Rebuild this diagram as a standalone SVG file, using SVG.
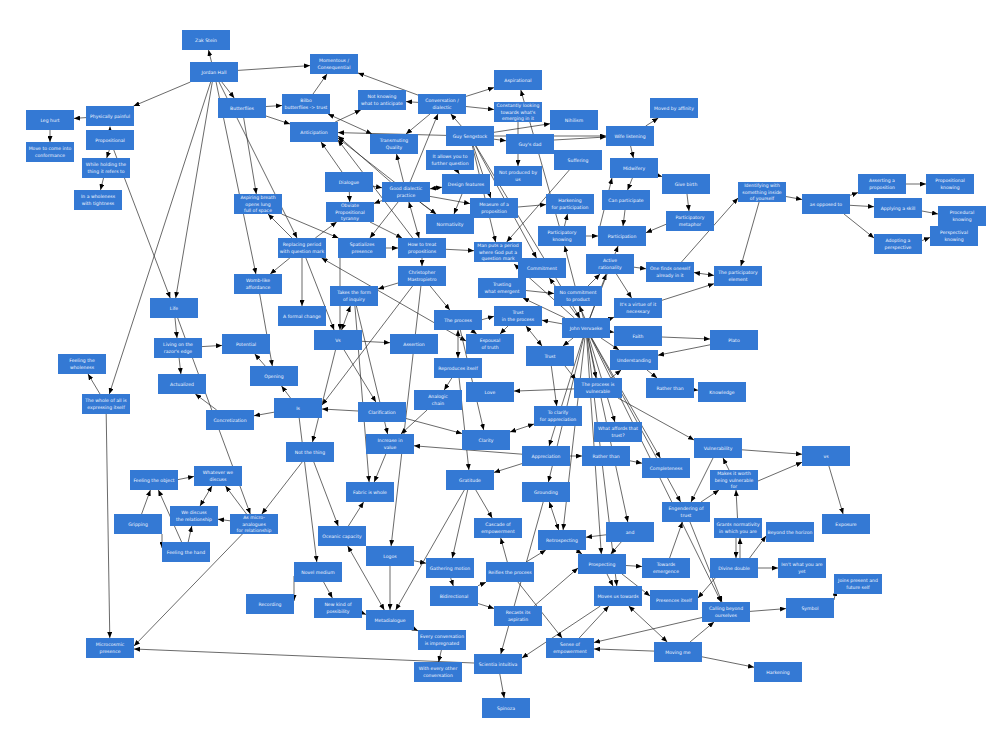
<svg xmlns="http://www.w3.org/2000/svg" width="994" height="732" viewBox="0 0 994 732">
<defs>
<marker id="ah" viewBox="0 0 12 10" refX="12" refY="5" markerWidth="6" markerHeight="5" markerUnits="userSpaceOnUse" orient="auto-start-reverse"><path d="M0,0 L12,5 L0,10 z" fill="#000"/></marker>
<style>
.e line{stroke:#2a2a2a;stroke-width:0.7;fill:none;marker-end:url(#ah)}
.e line.b{marker-start:url(#ah)}
.n rect{fill:#3479d4}
.n text{fill:#f2f6ff;font-family:"DejaVu Sans","Liberation Sans",sans-serif;font-size:4.6px;text-anchor:middle}
</style>
</defs>
<rect width="994" height="732" fill="#fff"/>
<g id="connectors" class="e">
<line x1="211.5" y1="62" x2="208.5" y2="50"/>
<line x1="238" y1="70.4" x2="310" y2="65.6"/>
<line x1="190.4" y1="82" x2="133.6" y2="106"/>
<line x1="221.8" y1="82" x2="234.2" y2="98"/>
<line x1="212.3" y1="82" x2="175.7" y2="298"/>
<line x1="210.7" y1="82" x2="109.3" y2="394"/>
<line x1="216.1" y1="82" x2="255.9" y2="274"/>
<line x1="219" y1="82" x2="297" y2="238"/>
<line x1="243.7" y1="118" x2="256.3" y2="194"/>
<line x1="86" y1="117.6" x2="74" y2="118.4"/>
<line x1="50" y1="130" x2="50" y2="142"/>
<line x1="110" y1="130" x2="110" y2="126.5"/>
<line x1="109.3" y1="150" x2="106.7" y2="158"/>
<line x1="103.5" y1="178" x2="100.5" y2="190"/>
<line x1="113.8" y1="150" x2="170.2" y2="298"/>
<line x1="175" y1="318" x2="177" y2="338"/>
<line x1="202" y1="346.6" x2="222" y2="345.4"/>
<line x1="179.1" y1="358" x2="180.9" y2="374"/>
<line x1="216.7" y1="410" x2="195.3" y2="394"/>
<line x1="100" y1="394" x2="88" y2="374"/>
<line x1="106.2" y1="414" x2="109.8" y2="638"/>
<line x1="177.7" y1="318" x2="250.3" y2="514"/>
<line x1="178" y1="479.6" x2="194" y2="476.4"/>
<line x1="141.6" y1="514" x2="150.4" y2="490"/>
<line x1="162" y1="534" x2="162" y2="548"/>
<line x1="181.6" y1="542" x2="158.4" y2="490"/>
<line x1="188.2" y1="542" x2="191.8" y2="526"/>
<line class="b" x1="200" y1="506" x2="212" y2="486"/>
<line x1="230" y1="520.8" x2="218" y2="519.2"/>
<line x1="246.5" y1="514" x2="225.5" y2="486"/>
<line x1="242.4" y1="534" x2="134" y2="646"/>
<line x1="474" y1="663" x2="134" y2="649"/>
<line x1="265.2" y1="366" x2="254.8" y2="354"/>
<line x1="290.5" y1="398" x2="281.5" y2="386"/>
<line x1="274" y1="412.2" x2="254" y2="415.8"/>
<line x1="358" y1="411" x2="322" y2="409"/>
<line x1="412.6" y1="286" x2="322" y2="405"/>
<line x1="259.7" y1="294" x2="272.3" y2="366"/>
<line x1="289.8" y1="258" x2="270.2" y2="274"/>
<line x1="302" y1="258" x2="302" y2="306"/>
<line x1="292" y1="238" x2="268" y2="214"/>
<line x1="281.6" y1="214" x2="338.4" y2="238"/>
<line class="b" x1="350.4" y1="306" x2="341.6" y2="330"/>
<line x1="398" y1="283" x2="378" y2="289"/>
<line x1="340" y1="258" x2="340" y2="330"/>
<line x1="305.9" y1="258" x2="334.1" y2="330"/>
<line x1="362" y1="341.3" x2="390" y2="342.7"/>
<line x1="335.5" y1="350" x2="312.5" y2="442"/>
<line x1="356.4" y1="306" x2="387.6" y2="434"/>
<line x1="406" y1="418.5" x2="462" y2="433.5"/>
<line x1="522" y1="454.2" x2="414" y2="445.8"/>
<line x1="385.8" y1="454" x2="374.2" y2="482"/>
<line x1="313.8" y1="462" x2="338.2" y2="526"/>
<line x1="299.2" y1="418" x2="316.8" y2="562"/>
<line x1="302.2" y1="462" x2="261.8" y2="514"/>
<line x1="348.4" y1="526" x2="363.6" y2="502"/>
<line class="b" x1="384.3" y1="610" x2="347.7" y2="546"/>
<line x1="390" y1="566" x2="390" y2="610"/>
<line x1="414" y1="560.8" x2="426" y2="563.2"/>
<line x1="464.3" y1="490" x2="395.7" y2="610"/>
<line x1="323.6" y1="582" x2="332.4" y2="598"/>
<line x1="294" y1="576" x2="294" y2="601"/>
<line x1="360" y1="612" x2="366" y2="614.5"/>
<line x1="412" y1="628" x2="418" y2="630.8"/>
<line x1="441.4" y1="650" x2="438.6" y2="662"/>
<line x1="467.7" y1="490" x2="452.3" y2="558"/>
<line x1="450.7" y1="578" x2="453.3" y2="586"/>
<line x1="478" y1="585.7" x2="486" y2="582.3"/>
<line x1="478" y1="603.5" x2="494" y2="608.5"/>
<line x1="475.8" y1="490" x2="492.2" y2="518"/>
<line x1="420.9" y1="286" x2="391.1" y2="546"/>
<line x1="354.9" y1="306" x2="369.1" y2="482"/>
<line x1="266" y1="106.5" x2="282" y2="105.5"/>
<line x1="266" y1="116" x2="290" y2="124"/>
<line x1="313" y1="94" x2="327" y2="74"/>
<line x1="335.2" y1="122" x2="360.8" y2="110"/>
<line x1="418" y1="102.4" x2="406" y2="101.6"/>
<line x1="418" y1="95.1" x2="358" y2="72.9"/>
<line x1="461.2" y1="126" x2="450.8" y2="114"/>
<line x1="430" y1="114" x2="406" y2="134"/>
<line class="b" x1="328" y1="114" x2="372" y2="134"/>
<line x1="446" y1="135.4" x2="338" y2="132.6"/>
<line x1="390.7" y1="182" x2="338" y2="136"/>
<line x1="435.2" y1="214" x2="338" y2="138"/>
<line x1="342" y1="172" x2="321" y2="142"/>
<line x1="373" y1="186.2" x2="382" y2="187.8"/>
<line x1="410.1" y1="182" x2="437.9" y2="114"/>
<line x1="403.5" y1="182" x2="396.5" y2="154"/>
<line x1="382" y1="200.6" x2="374" y2="203.4"/>
<line class="b" x1="430" y1="188.8" x2="442" y2="187.2"/>
<line x1="456.7" y1="170" x2="459.3" y2="174"/>
<line x1="430" y1="196.4" x2="470" y2="203.6"/>
<line x1="419.8" y1="202" x2="436.2" y2="214"/>
<line class="b" x1="408.9" y1="202" x2="419.1" y2="238"/>
<line x1="398.1" y1="202" x2="369.9" y2="238"/>
<line x1="315.3" y1="238" x2="336.7" y2="222"/>
<line x1="386" y1="248" x2="398" y2="248"/>
<line x1="370" y1="222" x2="402" y2="238"/>
<line x1="349.3" y1="192" x2="349.7" y2="202"/>
<line x1="446" y1="249.3" x2="474" y2="250.7"/>
<line x1="466" y1="96.4" x2="494" y2="87.6"/>
<line x1="466" y1="106.5" x2="494" y2="109.5"/>
<line x1="494" y1="132.3" x2="550" y2="123.7"/>
<line x1="494" y1="139.2" x2="506" y2="140.8"/>
<line x1="554" y1="140" x2="606" y2="137"/>
<line x1="494" y1="136" x2="606" y2="136"/>
<line x1="569.3" y1="170" x2="506.7" y2="242"/>
<line x1="645.7" y1="126" x2="658.3" y2="118"/>
<line x1="630.6" y1="146" x2="633.4" y2="158"/>
<line x1="658" y1="175.4" x2="662" y2="176.6"/>
<line x1="632.4" y1="178" x2="627.6" y2="190"/>
<line x1="687" y1="194" x2="689" y2="211"/>
<line x1="666" y1="224.3" x2="646" y2="232.7"/>
<line x1="625" y1="210" x2="623" y2="226"/>
<line x1="586" y1="236" x2="598" y2="236"/>
<line x1="564.5" y1="226" x2="567.5" y2="214"/>
<line x1="600" y1="226" x2="612" y2="178"/>
<line x1="518" y1="207" x2="546" y2="204.6"/>
<line x1="518" y1="122" x2="518" y2="166"/>
<line x1="786" y1="196.5" x2="802" y2="199.5"/>
<line x1="759.1" y1="202" x2="740.9" y2="266"/>
<line x1="681.5" y1="262" x2="738" y2="198"/>
<line x1="850" y1="195.4" x2="858" y2="192.6"/>
<line x1="850" y1="205.3" x2="874" y2="206.7"/>
<line x1="844" y1="214" x2="874" y2="238"/>
<line x1="906" y1="184" x2="926" y2="184"/>
<line x1="922" y1="211" x2="938" y2="214"/>
<line x1="922" y1="240.6" x2="930" y2="237.4"/>
<line x1="634" y1="267.2" x2="646" y2="268.8"/>
<line x1="616.4" y1="274" x2="631.6" y2="298"/>
<line class="b" x1="714" y1="275.4" x2="694" y2="272.6"/>
<line x1="662" y1="300.3" x2="714" y2="283.7"/>
<line x1="589.8" y1="318" x2="606.2" y2="274"/>
<line x1="584.8" y1="318" x2="579.2" y2="306"/>
<line x1="578.7" y1="318" x2="549.3" y2="278"/>
<line x1="562" y1="323.8" x2="542" y2="320.2"/>
<line x1="573.1" y1="338" x2="562.9" y2="346"/>
<line x1="610" y1="331.7" x2="614" y2="332.3"/>
<line x1="601" y1="338" x2="619" y2="350"/>
<line x1="588" y1="338" x2="596" y2="378"/>
<line x1="610" y1="318.8" x2="614" y2="317.2"/>
<line x1="662" y1="337" x2="710" y2="339"/>
<line x1="710" y1="344.8" x2="658" y2="355.2"/>
<line x1="646.9" y1="370" x2="657.1" y2="378"/>
<line x1="694" y1="389.8" x2="698" y2="390.2"/>
<line x1="610.9" y1="378" x2="621.1" y2="370"/>
<line x1="574" y1="388.9" x2="514" y2="391.1"/>
<line x1="551.3" y1="366" x2="556.7" y2="406"/>
<line class="b" x1="534" y1="424" x2="510" y2="432"/>
<line x1="570" y1="456" x2="582" y2="456"/>
<line x1="630" y1="460.8" x2="642" y2="463.2"/>
<line x1="742" y1="449.8" x2="802" y2="454.2"/>
<line x1="758" y1="481" x2="802" y2="462.3"/>
<line x1="828.9" y1="466" x2="843.1" y2="514"/>
<line x1="729" y1="470" x2="723" y2="458"/>
<line x1="701" y1="502" x2="719" y2="490"/>
<line x1="618" y1="398" x2="694" y2="440"/>
<line x1="589.1" y1="338" x2="614.9" y2="422"/>
<line x1="582.9" y1="338" x2="549.1" y2="446"/>
<line x1="583.6" y1="338" x2="548.4" y2="482"/>
<line x1="584.9" y1="338" x2="563.1" y2="530"/>
<line x1="586.7" y1="338" x2="601.3" y2="554"/>
<line x1="587.2" y1="338" x2="616.8" y2="586"/>
<line x1="591.7" y1="338" x2="660.3" y2="458"/>
<line x1="591.4" y1="338" x2="680.6" y2="502"/>
<line x1="590.9" y1="338" x2="721.1" y2="602"/>
<line x1="588.2" y1="338" x2="627.8" y2="522"/>
<line x1="565" y1="318" x2="523" y2="298"/>
<line class="b" x1="542" y1="346" x2="526" y2="326"/>
<line x1="482" y1="319.7" x2="494" y2="316.3"/>
<line class="b" x1="458" y1="330" x2="458" y2="358"/>
<line x1="471.3" y1="330" x2="476.7" y2="334"/>
<line class="b" x1="321.6" y1="258" x2="466" y2="341"/>
<line x1="422" y1="258" x2="422" y2="266"/>
<line x1="430.2" y1="286" x2="449.8" y2="310"/>
<line x1="460.3" y1="330" x2="483.7" y2="430"/>
<line x1="451.8" y1="378" x2="444.2" y2="390"/>
<line x1="459.1" y1="378" x2="468.9" y2="470"/>
<line x1="522" y1="463.6" x2="494" y2="472.4"/>
<line x1="427.1" y1="410" x2="400.9" y2="434"/>
<line x1="344.1" y1="350" x2="375.9" y2="402"/>
<line class="b" x1="549.3" y1="502" x2="558.7" y2="530"/>
<line x1="606" y1="534.8" x2="586" y2="537.2"/>
<line x1="621.2" y1="542" x2="610.8" y2="554"/>
<line x1="526.2" y1="562" x2="545.8" y2="550"/>
<line x1="507.3" y1="562" x2="500.7" y2="538"/>
<line x1="576" y1="550" x2="582" y2="554"/>
<line x1="534.2" y1="606" x2="578" y2="568"/>
<line x1="607" y1="574" x2="613" y2="586"/>
<line x1="626" y1="565.5" x2="642" y2="566.5"/>
<line x1="622" y1="574" x2="650" y2="596"/>
<line x1="669.6" y1="558" x2="682.4" y2="522"/>
<line x1="690" y1="522" x2="722" y2="602"/>
<line x1="736" y1="538" x2="736" y2="558"/>
<line x1="740" y1="558" x2="740" y2="538"/>
<line x1="749.6" y1="558" x2="766" y2="536"/>
<line x1="758" y1="568" x2="778" y2="568"/>
<line x1="715.2" y1="578" x2="698" y2="598"/>
<line x1="737.5" y1="518" x2="736" y2="490"/>
<line x1="750" y1="611.4" x2="786" y2="608.6"/>
<line x1="834" y1="600" x2="836" y2="590"/>
<line x1="690" y1="642" x2="714" y2="622"/>
<line x1="654" y1="651.1" x2="594" y2="648.9"/>
<line x1="702" y1="617.5" x2="594" y2="642.5"/>
<line class="b" x1="667.3" y1="642" x2="628.7" y2="606"/>
<line x1="702" y1="656.8" x2="754" y2="667.2"/>
<line x1="600.4" y1="606" x2="522" y2="658"/>
<line x1="579.2" y1="638" x2="608.8" y2="606"/>
<line x1="517.9" y1="582" x2="562.1" y2="638"/>
<line x1="543.2" y1="502" x2="500.8" y2="654"/>
<line x1="499.8" y1="674" x2="504.2" y2="698"/>
<line x1="713" y1="458" x2="691" y2="502"/>
<line x1="565" y1="366" x2="576" y2="380"/>
<line x1="588" y1="286" x2="600" y2="274"/>
<line x1="526" y1="290.5" x2="554" y2="293.5"/>
<line x1="583.4" y1="318" x2="564.6" y2="246"/>
<line x1="589.9" y1="318" x2="618.1" y2="246"/>
<line x1="574.4" y1="318" x2="514" y2="264"/>
<line x1="473.3" y1="146" x2="490.7" y2="198"/>
<line x1="472.4" y1="146" x2="495.6" y2="242"/>
<line x1="475.5" y1="146" x2="536.5" y2="258"/>
<line x1="476" y1="146" x2="580" y2="318"/>
<line x1="559.2" y1="226" x2="520.8" y2="90"/>
<line x1="412.7" y1="238" x2="338" y2="140"/>
<line x1="462" y1="194" x2="454" y2="214"/>
<line x1="508" y1="326" x2="500" y2="334"/>
</g>
<g class="n">
<g id="zak-stein"><rect x="182" y="30" width="48" height="20"/><text x="206" y="41.6">Zak Stein</text></g>
<g id="jordan-hall"><rect x="190" y="62" width="48" height="20"/><text x="214" y="73.6">Jordan Hall</text></g>
<g id="physically-painful"><rect x="86" y="106" width="48" height="20"/><text x="110" y="117.6">Physically painful</text></g>
<g id="leg-hurt"><rect x="26" y="110" width="48" height="20"/><text x="50" y="121.6">Leg hurt</text></g>
<g id="move-to-come"><rect x="26" y="142" width="48" height="20"/><text x="50" y="150.2">Move to come into<tspan x="50" dy="6.8">conformance</tspan></text></g>
<g id="propositional"><rect x="86" y="130" width="48" height="20"/><text x="110" y="141.6">Propositional</text></g>
<g id="while-holding"><rect x="82" y="158" width="48" height="20"/><text x="106" y="166.2">While holding the<tspan x="106" dy="6.8">thing it refers to</tspan></text></g>
<g id="in-a-wholeness"><rect x="74" y="190" width="48" height="20"/><text x="98" y="198.2">In a wholeness<tspan x="98" dy="6.8">with tightness</tspan></text></g>
<g id="butterflies"><rect x="218" y="98" width="48" height="20"/><text x="242" y="109.6">Butterflies</text></g>
<g id="momentous"><rect x="310" y="54" width="48" height="20"/><text x="334" y="62.2">Momentous /<tspan x="334" dy="6.8">Consequential</tspan></text></g>
<g id="bilbo"><rect x="282" y="94" width="48" height="20"/><text x="306" y="102.2">Bilbo<tspan x="306" dy="6.8">butterflies -&gt; trust</tspan></text></g>
<g id="anticipation"><rect x="290" y="122" width="48" height="20"/><text x="314" y="133.6">Anticipation</text></g>
<g id="not-knowing"><rect x="358" y="90" width="48" height="20"/><text x="382" y="98.2">Not knowing<tspan x="382" dy="6.8">what to anticipate</tspan></text></g>
<g id="conversation"><rect x="418" y="94" width="48" height="20"/><text x="442" y="102.2">Conversation /<tspan x="442" dy="6.8">dialectic</tspan></text></g>
<g id="transmuting"><rect x="370" y="134" width="48" height="20"/><text x="394" y="142.2">Transmuting<tspan x="394" dy="6.8">Quality</tspan></text></g>
<g id="guy-sengstock"><rect x="446" y="126" width="48" height="20"/><text x="470" y="137.6">Guy Sengstock</text></g>
<g id="it-allows"><rect x="426" y="150" width="48" height="20"/><text x="450" y="158.2">It allows you to<tspan x="450" dy="6.8">further question</tspan></text></g>
<g id="design-features"><rect x="442" y="174" width="48" height="20"/><text x="466" y="185.6">Design features</text></g>
<g id="dialogue"><rect x="325" y="172" width="48" height="20"/><text x="349" y="183.6">Dialogue</text></g>
<g id="good-dialectic"><rect x="382" y="182" width="48" height="20"/><text x="406" y="190.2">Good dialectic<tspan x="406" dy="6.8">practice</tspan></text></g>
<g id="obviate"><rect x="326" y="202" width="48" height="20"/><text x="350" y="207.2">Obviate<tspan x="350" dy="6.4">Propositional</tspan><tspan x="350" dy="6.4">tyranny</tspan></text></g>
<g id="measure"><rect x="470" y="198" width="48" height="20"/><text x="494" y="206.2">Measure of a<tspan x="494" dy="6.8">proposition</tspan></text></g>
<g id="normativity"><rect x="426" y="214" width="48" height="20"/><text x="450" y="225.6">Normativity</text></g>
<g id="replacing-period"><rect x="278" y="238" width="48" height="20"/><text x="302" y="246.2">Replacing period<tspan x="302" dy="6.8">with question mark</tspan></text></g>
<g id="spatializes"><rect x="338" y="238" width="48" height="20"/><text x="362" y="246.2">Spatializes<tspan x="362" dy="6.8">presence</tspan></text></g>
<g id="how-to-treat"><rect x="398" y="238" width="48" height="20"/><text x="422" y="246.2">How to treat<tspan x="422" dy="6.8">propositions</tspan></text></g>
<g id="man-puts"><rect x="474" y="242" width="48" height="20"/><text x="498" y="247.2">Man puts a period<tspan x="498" dy="6.4">where God put a</tspan><tspan x="498" dy="6.4">question mark</tspan></text></g>
<g id="aspiring-breath"><rect x="234" y="194" width="48" height="20"/><text x="258" y="199.2">Aspiring breath<tspan x="258" dy="6.4">opens lung</tspan><tspan x="258" dy="6.4">full of space</tspan></text></g>
<g id="aspirational"><rect x="494" y="70" width="48" height="20"/><text x="518" y="81.6">Aspirational</text></g>
<g id="constantly-looking"><rect x="494" y="102" width="48" height="20"/><text x="518" y="107.2">Constantly looking<tspan x="518" dy="6.4">towards what's</tspan><tspan x="518" dy="6.4">emerging in it</tspan></text></g>
<g id="nihilism"><rect x="550" y="110" width="48" height="20"/><text x="574" y="121.6">Nihilism</text></g>
<g id="guys-dad"><rect x="506" y="134" width="48" height="20"/><text x="530" y="145.6">Guy's dad</text></g>
<g id="wife-listening"><rect x="606" y="126" width="48" height="20"/><text x="630" y="137.6">Wife listening</text></g>
<g id="moved-by-affinity"><rect x="650" y="98" width="48" height="20"/><text x="674" y="109.6">Moved by affinity</text></g>
<g id="suffering"><rect x="554" y="150" width="48" height="20"/><text x="578" y="161.6">Suffering</text></g>
<g id="not-produced"><rect x="494" y="166" width="48" height="20"/><text x="518" y="174.2">Not produced by<tspan x="518" dy="6.8">us</tspan></text></g>
<g id="midwifery"><rect x="610" y="158" width="48" height="20"/><text x="634" y="169.6">Midwifery</text></g>
<g id="give-birth"><rect x="662" y="174" width="48" height="20"/><text x="686" y="185.6">Give birth</text></g>
<g id="harkening-participation"><rect x="546" y="194" width="48" height="20"/><text x="570" y="202.2">Harkening<tspan x="570" dy="6.8">for participation</tspan></text></g>
<g id="can-participate"><rect x="602" y="190" width="48" height="20"/><text x="626" y="201.6">Can participate</text></g>
<g id="participatory-metaphor"><rect x="666" y="211" width="48" height="20"/><text x="690" y="219.2">Participatory<tspan x="690" dy="6.8">metaphor</tspan></text></g>
<g id="participatory-knowing"><rect x="538" y="226" width="48" height="20"/><text x="562" y="234.2">Participatory<tspan x="562" dy="6.8">knowing</tspan></text></g>
<g id="participation"><rect x="598" y="226" width="48" height="20"/><text x="622" y="237.6">Participation</text></g>
<g id="identifying"><rect x="738" y="182" width="48" height="20"/><text x="762" y="187.2">Identifying with<tspan x="762" dy="6.4">something inside</tspan><tspan x="762" dy="6.4">of yourself</tspan></text></g>
<g id="as-opposed-to"><rect x="802" y="194" width="48" height="20"/><text x="826" y="205.6">as opposed to</text></g>
<g id="asserting"><rect x="858" y="174" width="48" height="20"/><text x="882" y="182.2">Asserting a<tspan x="882" dy="6.8">proposition</tspan></text></g>
<g id="propositional-knowing"><rect x="926" y="174" width="48" height="20"/><text x="950" y="182.2">Propositional<tspan x="950" dy="6.8">knowing</tspan></text></g>
<g id="applying-skill"><rect x="874" y="198" width="48" height="20"/><text x="898" y="209.6">Applying a skill</text></g>
<g id="procedural-knowing"><rect x="938" y="206" width="48" height="20"/><text x="962" y="214.2">Procedural<tspan x="962" dy="6.8">knowing</tspan></text></g>
<g id="perspectival-knowing"><rect x="930" y="226" width="48" height="20"/><text x="954" y="234.2">Perspectival<tspan x="954" dy="6.8">knowing</tspan></text></g>
<g id="adopting"><rect x="874" y="234" width="48" height="20"/><text x="898" y="242.2">Adopting a<tspan x="898" dy="6.8">perspective</tspan></text></g>
<g id="life"><rect x="150" y="298" width="48" height="20"/><text x="174" y="309.6">Life</text></g>
<g id="living-razor"><rect x="154" y="338" width="48" height="20"/><text x="178" y="346.2">Living on the<tspan x="178" dy="6.8">razor's edge</tspan></text></g>
<g id="potential"><rect x="222" y="334" width="48" height="20"/><text x="246" y="345.6">Potential</text></g>
<g id="actualized"><rect x="158" y="374" width="48" height="20"/><text x="182" y="385.6">Actualized</text></g>
<g id="feeling-wholeness"><rect x="58" y="354" width="48" height="20"/><text x="82" y="362.2">Feeling the<tspan x="82" dy="6.8">wholeness</tspan></text></g>
<g id="whole-of-all"><rect x="82" y="394" width="48" height="20"/><text x="106" y="402.2">The whole of all is<tspan x="106" dy="6.8">expressing itself</tspan></text></g>
<g id="concretization"><rect x="206" y="410" width="48" height="20"/><text x="230" y="421.6">Concretization</text></g>
<g id="feeling-object"><rect x="130" y="470" width="48" height="20"/><text x="154" y="481.6">Feeling the object</text></g>
<g id="whatever-we-discuss"><rect x="194" y="466" width="48" height="20"/><text x="218" y="474.2">Whatever we<tspan x="218" dy="6.8">discuss</tspan></text></g>
<g id="womb-like"><rect x="234" y="274" width="48" height="20"/><text x="258" y="282.2">Womb-like<tspan x="258" dy="6.8">affordance</tspan></text></g>
<g id="opening"><rect x="250" y="366" width="48" height="20"/><text x="274" y="377.6">Opening</text></g>
<g id="takes-form"><rect x="330" y="286" width="48" height="20"/><text x="354" y="294.2">Takes the form<tspan x="354" dy="6.8">of inquiry</tspan></text></g>
<g id="christopher"><rect x="398" y="266" width="48" height="20"/><text x="422" y="274.2">Christopher<tspan x="422" dy="6.8">Mastropietro</tspan></text></g>
<g id="formal-change"><rect x="278" y="306" width="48" height="20"/><text x="302" y="317.6">A formal change</text></g>
<g id="vs-1"><rect x="314" y="330" width="48" height="20"/><text x="338" y="341.6">Vs</text></g>
<g id="assertion"><rect x="390" y="334" width="48" height="20"/><text x="414" y="345.6">Assertion</text></g>
<g id="the-process"><rect x="434" y="310" width="48" height="20"/><text x="458" y="321.6">The process</text></g>
<g id="espousal"><rect x="466" y="334" width="48" height="20"/><text x="490" y="342.2">Espousal<tspan x="490" dy="6.8">of truth</tspan></text></g>
<g id="reproduces"><rect x="434" y="358" width="48" height="20"/><text x="458" y="369.6">Reproduces itself</text></g>
<g id="love"><rect x="466" y="382" width="48" height="20"/><text x="490" y="393.6">Love</text></g>
<g id="analogic-chain"><rect x="414" y="390" width="48" height="20"/><text x="438" y="398.2">Analogic<tspan x="438" dy="6.8">chain</tspan></text></g>
<g id="is"><rect x="274" y="398" width="48" height="20"/><text x="298" y="409.6">Is</text></g>
<g id="clarification"><rect x="358" y="402" width="48" height="20"/><text x="382" y="413.6">Clarification</text></g>
<g id="clarity"><rect x="462" y="430" width="48" height="20"/><text x="486" y="441.6">Clarity</text></g>
<g id="not-the-thing"><rect x="286" y="442" width="48" height="20"/><text x="310" y="453.6">Not the thing</text></g>
<g id="increase-value"><rect x="366" y="434" width="48" height="20"/><text x="390" y="442.2">Increase in<tspan x="390" dy="6.8">value</tspan></text></g>
<g id="gratitude"><rect x="446" y="470" width="48" height="20"/><text x="470" y="481.6">Gratitude</text></g>
<g id="fabric-whole"><rect x="346" y="482" width="48" height="20"/><text x="370" y="493.6">Fabric is whole</text></g>
<g id="trusting-emergent"><rect x="478" y="278" width="48" height="20"/><text x="502" y="286.2">Trusting<tspan x="502" dy="6.8">what emergent</tspan></text></g>
<g id="commitment"><rect x="518" y="258" width="48" height="20"/><text x="542" y="269.6">Commitment</text></g>
<g id="active-rationality"><rect x="586" y="254" width="48" height="20"/><text x="610" y="262.2">Active<tspan x="610" dy="6.8">rationality</tspan></text></g>
<g id="one-finds"><rect x="646" y="262" width="48" height="20"/><text x="670" y="270.2">One finds oneself<tspan x="670" dy="6.8">already in it</tspan></text></g>
<g id="participatory-element"><rect x="714" y="266" width="48" height="20"/><text x="738" y="274.2">The participatory<tspan x="738" dy="6.8">element</tspan></text></g>
<g id="no-commitment"><rect x="554" y="286" width="48" height="20"/><text x="578" y="294.2">No commitment<tspan x="578" dy="6.8">to product</tspan></text></g>
<g id="virtue"><rect x="614" y="298" width="48" height="20"/><text x="638" y="306.2">It's a virtue of it<tspan x="638" dy="6.8">necessary</tspan></text></g>
<g id="trust-process"><rect x="494" y="306" width="48" height="20"/><text x="518" y="314.2">Trust<tspan x="518" dy="6.8">in the process</tspan></text></g>
<g id="john-vervaeke"><rect x="562" y="318" width="48" height="20"/><text x="586" y="329.6">John Vervaeke</text></g>
<g id="faith"><rect x="614" y="326" width="48" height="20"/><text x="638" y="337.6">Faith</text></g>
<g id="plato"><rect x="710" y="330" width="48" height="20"/><text x="734" y="341.6">Plato</text></g>
<g id="trust"><rect x="526" y="346" width="48" height="20"/><text x="550" y="357.6">Trust</text></g>
<g id="understanding"><rect x="610" y="350" width="48" height="20"/><text x="634" y="361.6">Understanding</text></g>
<g id="process-vulnerable"><rect x="574" y="378" width="48" height="20"/><text x="598" y="386.2">The process is<tspan x="598" dy="6.8">vulnerable</tspan></text></g>
<g id="rather-than-1"><rect x="646" y="378" width="48" height="20"/><text x="670" y="389.6">Rather than</text></g>
<g id="knowledge"><rect x="698" y="382" width="48" height="20"/><text x="722" y="393.6">Knowledge</text></g>
<g id="to-clarify"><rect x="534" y="406" width="48" height="20"/><text x="558" y="414.2">To clarify<tspan x="558" dy="6.8">for appreciation</tspan></text></g>
<g id="what-affords"><rect x="594" y="422" width="48" height="20"/><text x="618" y="430.2">What affords that<tspan x="618" dy="6.8">trust?</tspan></text></g>
<g id="appreciation"><rect x="522" y="446" width="48" height="20"/><text x="546" y="457.6">Appreciation</text></g>
<g id="rather-than-2"><rect x="582" y="446" width="48" height="20"/><text x="606" y="457.6">Rather than</text></g>
<g id="completeness"><rect x="642" y="458" width="48" height="20"/><text x="666" y="469.6">Completeness</text></g>
<g id="vulnerability"><rect x="694" y="438" width="48" height="20"/><text x="718" y="449.6">Vulnerability</text></g>
<g id="makes-it-worth"><rect x="710" y="470" width="48" height="20"/><text x="734" y="475.2">Makes it worth<tspan x="734" dy="6.4">being vulnerable</tspan><tspan x="734" dy="6.4">for</tspan></text></g>
<g id="grounding"><rect x="522" y="482" width="48" height="20"/><text x="546" y="493.6">Grounding</text></g>
<g id="vs-2"><rect x="802" y="446" width="48" height="20"/><text x="826" y="457.6">vs</text></g>
<g id="exposure"><rect x="822" y="514" width="48" height="20"/><text x="846" y="525.6">Exposure</text></g>
<g id="beyond-horizon"><rect x="766" y="522" width="48" height="20"/><text x="790" y="533.6">Beyond the horizon</text></g>
<g id="isnt-what"><rect x="778" y="558" width="48" height="20"/><text x="802" y="566.2">Isn't what you are<tspan x="802" dy="6.8">yet</tspan></text></g>
<g id="joins-present"><rect x="834" y="574" width="48" height="20"/><text x="858" y="582.2">Joins present and<tspan x="858" dy="6.8">future self</tspan></text></g>
<g id="symbol"><rect x="786" y="598" width="48" height="20"/><text x="810" y="609.6">Symbol</text></g>
<g id="harkening"><rect x="754" y="662" width="48" height="20"/><text x="778" y="673.6">Harkening</text></g>
<g id="engendering"><rect x="662" y="502" width="48" height="20"/><text x="686" y="510.2">Engendering of<tspan x="686" dy="6.8">trust</tspan></text></g>
<g id="grants-normativity"><rect x="714" y="518" width="48" height="20"/><text x="738" y="526.2">Grants normativity<tspan x="738" dy="6.8">in which you are</tspan></text></g>
<g id="cascade"><rect x="474" y="518" width="48" height="20"/><text x="498" y="526.2">Cascade of<tspan x="498" dy="6.8">empowerment</tspan></text></g>
<g id="retrospecting"><rect x="538" y="530" width="48" height="20"/><text x="562" y="541.6">Retrospecting</text></g>
<g id="and"><rect x="606" y="522" width="48" height="20"/><text x="630" y="533.6">and</text></g>
<g id="prospecting"><rect x="578" y="554" width="48" height="20"/><text x="602" y="565.6">Prospecting</text></g>
<g id="towards-emergence"><rect x="642" y="558" width="48" height="20"/><text x="666" y="566.2">Towards<tspan x="666" dy="6.8">emergence</tspan></text></g>
<g id="divine-double"><rect x="710" y="558" width="48" height="20"/><text x="734" y="569.6">Divine double</text></g>
<g id="reifies"><rect x="486" y="562" width="48" height="20"/><text x="510" y="573.6">Reifies the process</text></g>
<g id="moves-us"><rect x="594" y="586" width="48" height="20"/><text x="618" y="597.6">Moves us towards</text></g>
<g id="presences"><rect x="650" y="590" width="48" height="20"/><text x="674" y="601.6">Presences itself</text></g>
<g id="calling-beyond"><rect x="702" y="602" width="48" height="20"/><text x="726" y="610.2">Calling beyond<tspan x="726" dy="6.8">ourselves</tspan></text></g>
<g id="recasts"><rect x="494" y="606" width="48" height="20"/><text x="518" y="614.2">Recasts its<tspan x="518" dy="6.8">aspiratin</tspan></text></g>
<g id="sense-empowerment"><rect x="546" y="638" width="48" height="20"/><text x="570" y="646.2">Sense of<tspan x="570" dy="6.8">empowerment</tspan></text></g>
<g id="moving-me"><rect x="654" y="642" width="48" height="20"/><text x="678" y="653.6">Moving me</text></g>
<g id="scientia"><rect x="474" y="654" width="48" height="20"/><text x="498" y="665.6">Scientia intuitiva</text></g>
<g id="spinoza"><rect x="482" y="698" width="48" height="20"/><text x="506" y="709.6">Spinoza</text></g>
<g id="oceanic"><rect x="318" y="526" width="48" height="20"/><text x="342" y="537.6">Oceanic capacity</text></g>
<g id="logos"><rect x="366" y="546" width="48" height="20"/><text x="390" y="557.6">Logos</text></g>
<g id="gathering"><rect x="426" y="558" width="48" height="20"/><text x="450" y="569.6">Gathering motion</text></g>
<g id="novel-medium"><rect x="294" y="562" width="48" height="20"/><text x="318" y="573.6">Novel medium</text></g>
<g id="bidirectional"><rect x="430" y="586" width="48" height="20"/><text x="454" y="597.6">Bidirectional</text></g>
<g id="recording"><rect x="246" y="594" width="48" height="20"/><text x="270" y="605.6">Recording</text></g>
<g id="new-kind"><rect x="314" y="598" width="48" height="20"/><text x="338" y="606.2">New kind of<tspan x="338" dy="6.8">possibility</tspan></text></g>
<g id="metadialogue"><rect x="366" y="610" width="48" height="20"/><text x="390" y="621.6">Metadialogue</text></g>
<g id="every-conversation"><rect x="418" y="630" width="48" height="20"/><text x="442" y="638.2">Every conversation<tspan x="442" dy="6.8">is impregnated</tspan></text></g>
<g id="with-every-other"><rect x="414" y="662" width="48" height="20"/><text x="438" y="670.2">With every other<tspan x="438" dy="6.8">conversation</tspan></text></g>
<g id="as-micro"><rect x="230" y="514" width="48" height="20"/><text x="254" y="519.2">As micro-<tspan x="254" dy="6.4">analogues</tspan><tspan x="254" dy="6.4">for relationship</tspan></text></g>
<g id="gripping"><rect x="114" y="514" width="48" height="20"/><text x="138" y="525.6">Gripping</text></g>
<g id="we-discuss"><rect x="170" y="506" width="48" height="20"/><text x="194" y="514.2">We discuss<tspan x="194" dy="6.8">the relationship</tspan></text></g>
<g id="feeling-hand"><rect x="162" y="542" width="48" height="20"/><text x="186" y="553.6">Feeling the hand</text></g>
<g id="microcosmic"><rect x="86" y="638" width="48" height="20"/><text x="110" y="646.2">Microcosmic<tspan x="110" dy="6.8">presence</tspan></text></g>
</g>
</svg>
